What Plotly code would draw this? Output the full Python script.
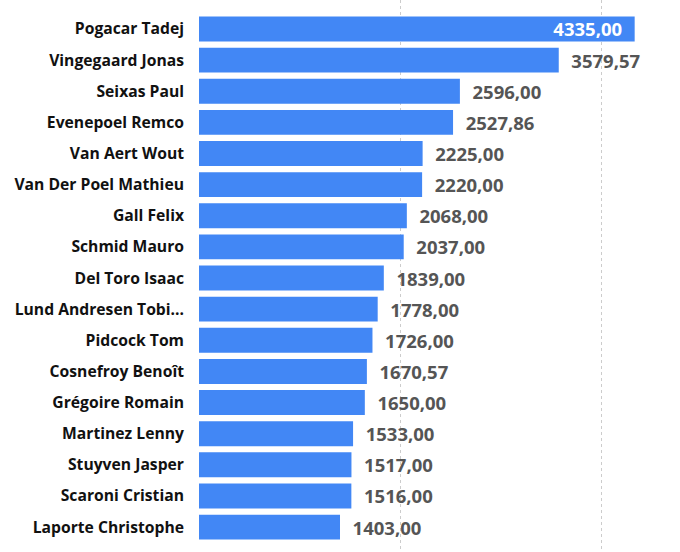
import plotly.graph_objects as go

riders = ["Pogacar Tadej", "Vingegaard Jonas", "Seixas Paul", "Evenepoel Remco",
          "Van Aert Wout", "Van Der Poel Mathieu", "Gall Felix", "Schmid Mauro",
          "Del Toro Isaac", "Lund Andresen Tobi...", "Pidcock Tom", "Cosnefroy Benoît",
          "Grégoire Romain", "Martinez Lenny", "Stuyven Jasper", "Scaroni Cristian",
          "Laporte Christophe"]
points = [4335.00, 3579.57, 2596.00, 2527.86, 2225.00, 2220.00, 2068.00, 2037.00,
          1839.00, 1778.00, 1726.00, 1670.57, 1650.00, 1533.00, 1517.00, 1516.00,
          1403.00]

fmt = [f"{v:.2f}".replace(".", ",") for v in points]
labels = [fmt[0] + "\u00a0\u00a0"] + ["\u00a0\u00a0" + s for s in fmt[1:]]
positions = ["inside"] + ["outside"] * (len(points) - 1)

fig = go.Figure(go.Bar(
    x=points, y=riders, orientation="h",
    marker=dict(color="#4287F5", line=dict(width=0)),
    text=labels, textposition=positions,
    insidetextanchor="end",
    constraintext="none",
    insidetextfont=dict(color="white", size=18.5, family="Open Sans", weight="bold"),
    outsidetextfont=dict(color="#555555", size=18.5, family="Open Sans", weight="bold"),
    cliponaxis=False,
    hoverinfo="skip",
))

fig.update_layout(
    width=680, height=552,
    margin=dict(l=199, r=0, t=0, b=0),
    paper_bgcolor="white", plot_bgcolor="white",
    bargap=0.2,
    showlegend=False,
    xaxis=dict(range=[0, 4786], tickvals=[0, 2000, 4000], showticklabels=False,
               showgrid=True, gridcolor="#cccccc", griddash="dot", gridwidth=1,
               zeroline=False, showline=False),
    yaxis=dict(categoryorder="array", categoryarray=riders,
               range=[16.8, -0.93], showgrid=False, zeroline=False,
               ticks="", ticklabelstandoff=14,
               tickfont=dict(family="Open Sans", size=15.7, color="#111111", weight="bold")),
)

fig.write_html("out.html", config={"displayModeBar": False},
               post_script="document.body.style.margin='0';")
